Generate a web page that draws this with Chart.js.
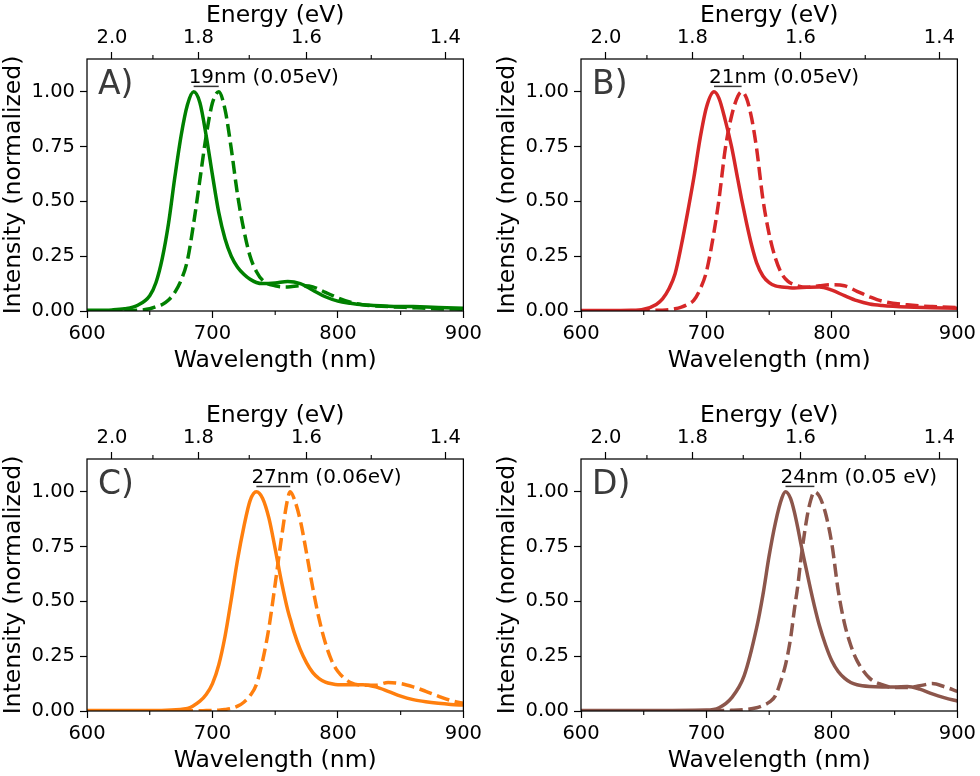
<!DOCTYPE html>
<html>
<head>
<meta charset="utf-8">
<script src="https://cdn.jsdelivr.net/npm/chart.js@4.4.1/dist/chart.umd.min.js"></script>
<style>
  body { margin: 0; background: #fff; }
  #wrap { position: relative; width: 980px; height: 776px; overflow: hidden; background: #fff; }
  canvas { position: absolute; }
</style>
</head>
<body>
<div id="wrap">
  <canvas id="panelA" width="486" height="376" style="left:0px;top:0px"></canvas>
  <canvas id="panelB" width="486" height="376" style="left:494px;top:0px"></canvas>
  <canvas id="panelC" width="486" height="376" style="left:0px;top:400px"></canvas>
  <canvas id="panelD" width="486" height="376" style="left:494px;top:400px"></canvas>
</div>
<script>
// wavelength grids (nm) and normalized intensities
const wlA = [600, 620, 630, 640, 650, 655, 660, 665, 670, 675, 680, 685, 690, 695, 700, 705, 710, 715, 720, 725, 730, 735, 740, 750, 760, 770, 780, 790, 800, 810, 820, 840, 860, 880, 900];
const solidA = [0.003, 0.005, 0.01, 0.025, 0.07, 0.13, 0.24, 0.40, 0.61, 0.80, 0.94, 1.0, 0.95, 0.80, 0.62, 0.45, 0.33, 0.25, 0.2, 0.168, 0.145, 0.13, 0.125, 0.128, 0.135, 0.125, 0.095, 0.065, 0.045, 0.035, 0.028, 0.022, 0.02, 0.016, 0.013];
const dashedA = [0.0, 0.0, 0.001, 0.003, 0.01, 0.02, 0.03, 0.05, 0.085, 0.14, 0.23, 0.40, 0.60, 0.80, 0.95, 1.0, 0.92, 0.74, 0.53, 0.37, 0.25, 0.18, 0.14, 0.115, 0.11, 0.115, 0.11, 0.085, 0.06, 0.04, 0.028, 0.02, 0.015, 0.01, 0.008];

const wlB = [600, 620, 640, 650, 660, 665, 670, 675, 680, 685, 690, 695, 700, 706, 710, 715, 720, 725, 728, 732, 736, 740, 745, 750, 755, 760, 765, 770, 780, 790, 800, 810, 820, 830, 840, 860, 880, 900];
const solidB = [0.002, 0.002, 0.003, 0.008, 0.03, 0.055, 0.1, 0.17, 0.30, 0.45, 0.61, 0.79, 0.93, 1.0, 0.97, 0.87, 0.75, 0.60, 0.51, 0.40, 0.30, 0.22, 0.16, 0.13, 0.115, 0.11, 0.107, 0.105, 0.108, 0.11, 0.095, 0.07, 0.047, 0.032, 0.025, 0.018, 0.015, 0.012];
const dashedB = [0.0, 0.0, 0.001, 0.002, 0.003, 0.004, 0.006, 0.01, 0.018, 0.03, 0.05, 0.10, 0.18, 0.36, 0.51, 0.74, 0.89, 0.98, 1.0, 0.97, 0.88, 0.74, 0.51, 0.35, 0.24, 0.17, 0.135, 0.12, 0.108, 0.115, 0.12, 0.115, 0.09, 0.065, 0.045, 0.028, 0.02, 0.016];

const wlC = [600, 650, 680, 690, 695, 700, 705, 710, 715, 720, 725, 730, 735, 740, 745, 750, 755, 760, 762, 765, 770, 775, 780, 785, 790, 795, 800, 810, 820, 830, 840, 850, 860, 870, 880, 890, 900];
const solidC = [0.002, 0.002, 0.012, 0.045, 0.075, 0.125, 0.21, 0.34, 0.51, 0.69, 0.84, 0.96, 1.0, 0.97, 0.88, 0.74, 0.59, 0.46, 0.42, 0.36, 0.28, 0.22, 0.175, 0.148, 0.132, 0.124, 0.12, 0.12, 0.12, 0.11, 0.09, 0.068, 0.052, 0.042, 0.035, 0.03, 0.027];
const dashedC = [0.0, 0.0, 0.001, 0.001, 0.002, 0.002, 0.004, 0.007, 0.012, 0.022, 0.04, 0.07, 0.12, 0.23, 0.38, 0.58, 0.79, 0.97, 1.0, 0.97, 0.87, 0.72, 0.56, 0.42, 0.31, 0.23, 0.18, 0.13, 0.118, 0.118, 0.13, 0.125, 0.11, 0.09, 0.068, 0.048, 0.035];

const wlD = [600, 650, 700, 710, 720, 730, 740, 745, 750, 755, 760, 763, 767, 770, 773, 775, 780, 783, 786, 790, 795, 800, 805, 810, 815, 820, 830, 840, 850, 860, 870, 880, 890, 900];
const solidD = [0.002, 0.002, 0.004, 0.015, 0.06, 0.16, 0.38, 0.53, 0.71, 0.86, 0.97, 1.0, 0.97, 0.91, 0.83, 0.77, 0.635, 0.555, 0.48, 0.39, 0.3, 0.228, 0.18, 0.15, 0.13, 0.12, 0.112, 0.11, 0.11, 0.112, 0.1, 0.078, 0.06, 0.045];
const dashedD = [0.0, 0.0, 0.001, 0.002, 0.003, 0.006, 0.015, 0.025, 0.04, 0.07, 0.15, 0.21, 0.33, 0.46, 0.58, 0.68, 0.88, 0.96, 1.0, 0.98, 0.9, 0.76, 0.55, 0.40, 0.30, 0.23, 0.15, 0.12, 0.107, 0.107, 0.115, 0.125, 0.11, 0.09];

const panelLabels = ["A)", "B)", "C)", "D)"];
const shiftNotes = ["19nm (0.05eV)", "21nm (0.05eV)", "27nm (0.06eV)", "24nm (0.05 eV)"];
const panelColors = ["#008000", "#d62728", "#ff7f0e", "#8c564b"];

const yTicks = [0, 0.25, 0.5, 0.75, 1.0];
const wlMinorTicks = [650, 750, 850];
const energyMajor = [2.0, 1.8, 1.6, 1.4];
const energyMinor = [1.9, 1.7, 1.5];
const HC = 1239.84;

const FONT = "'DejaVu Sans', sans-serif";

function toPoints(wl, vals) {
    return wl.map((w, i) => ({ x: w, y: vals[i] }));
}

function peakOf(wl, vals) {
    let best = 0;
    for (let i = 1; i < vals.length; i++) {
        if (vals[i] > vals[best]) best = i;
    }
    return wl[best];
}

// frame, minor ticks, panel letter and the peak-shift note
const decorPlugin = {
    id: "decor",
    afterDatasetsDraw(chart, args, opts) {
        const ctx = chart.ctx;
        const a = chart.chartArea;
        const xs = chart.scales.x;
        const ys = chart.scales.y;
        ctx.save();
        ctx.strokeStyle = "#000";
        ctx.lineWidth = 1.25;
        ctx.strokeRect(a.left, a.top, a.right - a.left, a.bottom - a.top);

        ctx.lineWidth = 1.1;
        ctx.beginPath();
        wlMinorTicks.forEach(function (w) {
            const px = xs.getPixelForValue(w);
            ctx.moveTo(px, a.bottom);
            ctx.lineTo(px, a.bottom + 4);
        });
        energyMinor.forEach(function (e) {
            const px = xs.getPixelForValue(HC / e);
            ctx.moveTo(px, a.top);
            ctx.lineTo(px, a.top - 4);
        });
        ctx.stroke();

        // peak shift bar
        const p1 = xs.getPixelForValue(opts.peak1);
        const p2 = xs.getPixelForValue(opts.peak2);
        const yb = ys.getPixelForValue(1.025);
        ctx.strokeStyle = "#333";
        ctx.lineWidth = 1.5;
        ctx.beginPath();
        ctx.moveTo(p1, yb);
        ctx.lineTo(p2, yb);
        ctx.stroke();

        ctx.fillStyle = "#000";
        ctx.font = "20px " + FONT;
        ctx.textBaseline = "alphabetic";
        ctx.textAlign = "left";
        ctx.fillText(opts.note, p1 - 5, ys.getPixelForValue(1.042));

        ctx.fillStyle = "#3a3a3a";
        ctx.font = "33px " + FONT;
        ctx.fillText(opts.label, a.left + 11, ys.getPixelForValue(0.99));
        ctx.restore();
    }
};

function makePanel(id, wl, solid, dashed, color, label, note) {
    const ctx = document.getElementById(id).getContext("2d");
    return new Chart(ctx, {
        type: "line",
        data: {
            datasets: [{
                data: toPoints(wl, solid),
                borderColor: color,
                borderWidth: 3.5,
                pointRadius: 0,
                cubicInterpolationMode: "monotone",
                fill: false
            }, {
                data: toPoints(wl, dashed),
                borderColor: color,
                borderWidth: 3.5,
                borderDash: [13, 5.6],
                pointRadius: 0,
                cubicInterpolationMode: "monotone",
                fill: false
            }]
        },
        options: {
            responsive: false,
            animation: false,
            devicePixelRatio: 1,
            layout: { padding: { left: 0, right: 22, top: 0, bottom: 0 } },
            plugins: {
                legend: { display: false },
                tooltip: { enabled: false },
                decor: {
                    peak1: peakOf(wl, solid),
                    peak2: peakOf(wl, dashed),
                    note: note,
                    label: label
                }
            },
            scales: {
                x: {
                    type: "linear",
                    position: "bottom",
                    min: 600,
                    max: 900,
                    afterFit: function (s) { s.height = 65; },
                    ticks: {
                        stepSize: 100,
                        autoSkip: false,
                        maxRotation: 0,
                        minRotation: 0,
                        padding: 4,
                        color: "#000",
                        font: { family: FONT, size: 19.5 }
                    },
                    grid: { drawOnChartArea: false, tickLength: 7, tickWidth: 1.2, tickColor: "#000" },
                    border: { display: false },
                    title: {
                        display: true,
                        text: "Wavelength (nm)",
                        color: "#000",
                        font: { family: FONT, size: 23.5 },
                        padding: { top: 1, bottom: 1 }
                    }
                },
                x2: {
                    type: "linear",
                    position: "top",
                    min: 600,
                    max: 900,
                    afterBuildTicks: function (s) {
                        s.ticks = energyMajor.map(e => ({ value: HC / e }));
                    },
                    afterFit: function (s) { s.height = 59; },
                    ticks: {
                        autoSkip: false,
                        maxRotation: 0,
                        minRotation: 0,
                        padding: 2,
                        color: "#000",
                        font: { family: FONT, size: 19.5 },
                        callback: function (v) { return (HC / v).toFixed(1); }
                    },
                    grid: { drawOnChartArea: false, tickLength: 7, tickWidth: 1.2, tickColor: "#000" },
                    border: { display: false },
                    title: {
                        display: true,
                        text: "Energy (eV)",
                        color: "#000",
                        font: { family: FONT, size: 23.5 },
                        padding: { top: 2, bottom: 2 }
                    }
                },
                y: {
                    type: "linear",
                    position: "left",
                    min: 0,
                    max: 1.15,
                    afterBuildTicks: function (s) {
                        s.ticks = yTicks.map(v => ({ value: v }));
                    },
                    afterFit: function (s) { s.width = 87; },
                    ticks: {
                        autoSkip: false,
                        padding: 5,
                        color: "#000",
                        font: { family: FONT, size: 19.5 },
                        callback: function (v) { return v.toFixed(2); }
                    },
                    grid: { drawOnChartArea: false, tickLength: 7, tickWidth: 1.2, tickColor: "#000" },
                    border: { display: false },
                    title: {
                        display: true,
                        text: "Intensity (normalized)",
                        color: "#000",
                        font: { family: FONT, size: 23.5 },
                        padding: { top: 0, bottom: 0 }
                    }
                }
            }
        },
        plugins: [decorPlugin]
    });
}

makePanel("panelA", wlA, solidA, dashedA, panelColors[0], panelLabels[0], shiftNotes[0]);
makePanel("panelB", wlB, solidB, dashedB, panelColors[1], panelLabels[1], shiftNotes[1]);
makePanel("panelC", wlC, solidC, dashedC, panelColors[2], panelLabels[2], shiftNotes[2]);
makePanel("panelD", wlD, solidD, dashedD, panelColors[3], panelLabels[3], shiftNotes[3]);
</script>
</body>
</html>
